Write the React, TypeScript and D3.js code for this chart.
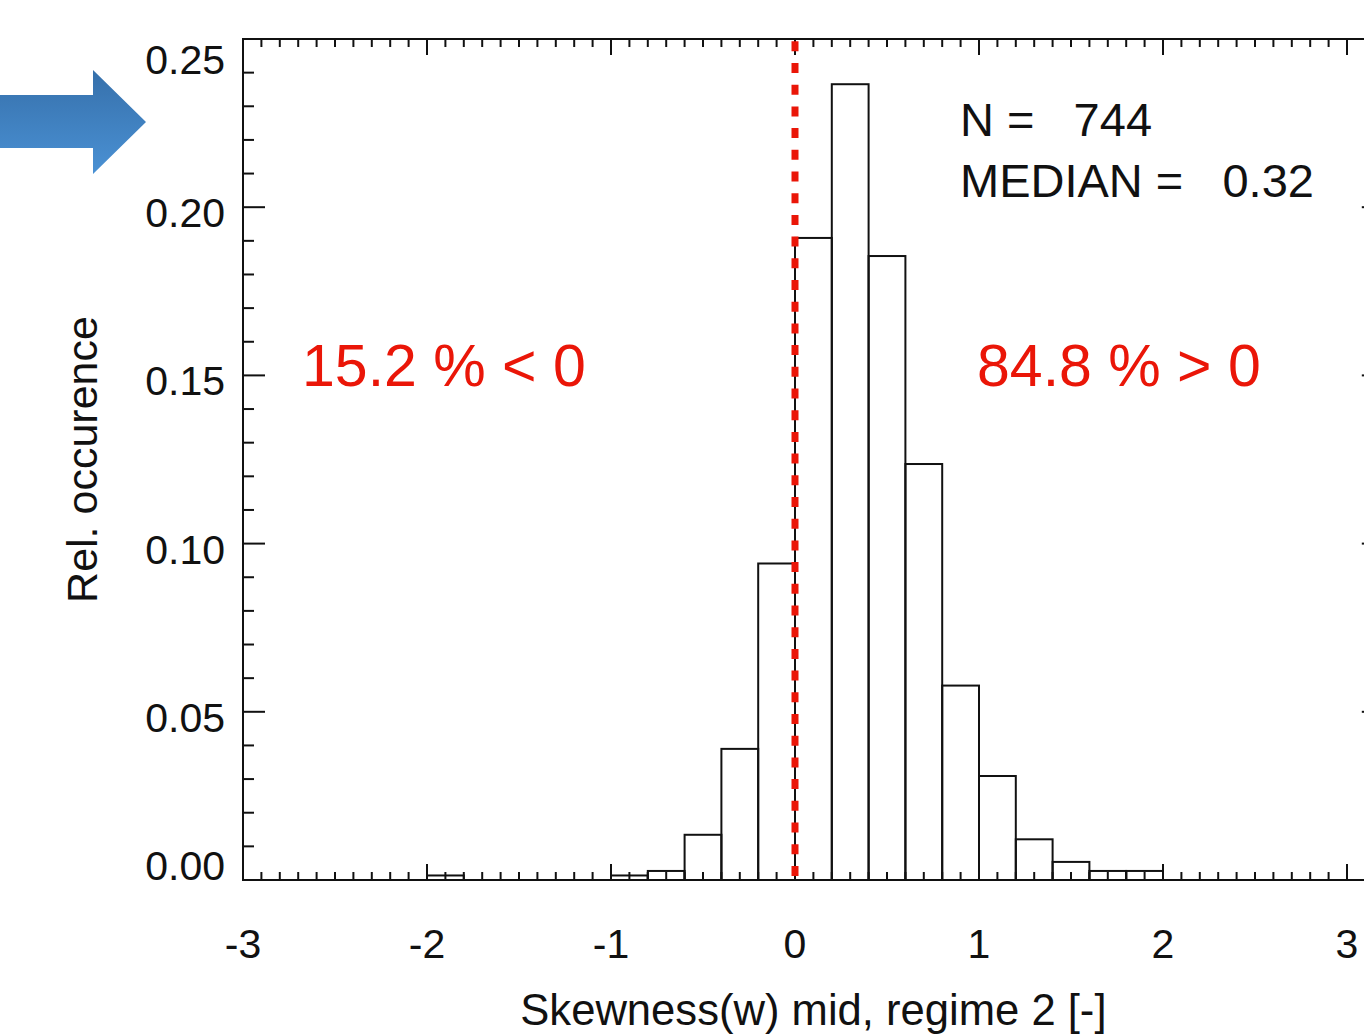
import React from "react";
import * as d3 from "d3";

// ---- data ----
const binStarts = [-2.0, -1.0, -0.8, -0.6, -0.4, -0.2, 0.0, 0.2, 0.4, 0.6, 0.8, 1.0, 1.2, 1.4, 1.6, 1.8];
const binCounts = [1, 1, 2, 10, 29, 70, 142, 176, 138, 92, 43, 23, 9, 4, 2, 2];
const binWidth = 0.2;
const totalN = 744;
const medianValue = 0.32;
const pctBelow = 15.2;
const pctAbove = 84.8;
const xTickValues = [-3, -2, -1, 0, 1, 2, 3];
const yTickValues = [0, 0.05, 0.1, 0.15, 0.2, 0.25];
const xTitle = "Skewness(w) mid, regime 2 [-]";
const yTitle = "Rel. occurence";

const W = 1364;
const H = 1034;
const FONT = "'Liberation Sans', Arial, Helvetica, sans-serif";
const RED = "#ea1608";

export default function App() {
  const left = 243;
  const top = 39;
  const bottom = 880;
  const x = d3.scaleLinear().domain([-3, 3.2]).range([left, left + 6.2 * 184]);
  const y = d3.scaleLinear().domain([0, 0.25]).range([bottom, top]);
  const right = x(3.2);

  const xMinor = d3.range(-30, 33).map((i) => i / 10).filter((v) => Math.abs(v * 10 - Math.round(v) * 10) > 1e-6);
  const yMinor = d3.range(0, 26).map((i) => i / 100).filter((v) => Math.round(v * 100) % 5 !== 0);

  const xMajLen = 16, xMinLen = 8, yMajLen = 22, yMinLen = 11;

  const bars = binStarts.map((s, i) => ({ x0: s, x1: s + binWidth, v: binCounts[i] / totalN }));

  const arrowPath = "M -20 95 L 93 95 L 93 70 L 146 122 L 93 174 L 93 148 L -20 148 Z";

  return (
    <div style={{ position: "absolute", left: 0, top: 0 }}>
      <svg width={W} height={H} style={{ display: "block", background: "#fff" }}>
        <defs>
          <linearGradient id="arrowGrad" x1="0" y1="0" x2="0" y2="1">
            <stop offset="0" stopColor="#3670ab" />
            <stop offset="1" stopColor="#4a91d4" />
          </linearGradient>
        </defs>
        <rect width={W} height={H} fill="#fff" />
        <path d={arrowPath} fill="url(#arrowGrad)" />

        {/* histogram bars */}
        <g fill="none" stroke="#111" strokeWidth={2}>
          {bars.map((b, i) => (
            <rect key={i} x={x(b.x0)} y={y(b.v)} width={x(b.x1) - x(b.x0)} height={y(0) - y(b.v)} />
          ))}
        </g>

        {/* frame */}
        <rect x={left} y={top} width={right - left} height={bottom - top} fill="none" stroke="#111" strokeWidth={2} />

        {/* ticks */}
        <g stroke="#111" strokeWidth={2}>
          {xTickValues.map((v) => (
            <g key={"xm" + v}>
              <line x1={x(v)} x2={x(v)} y1={bottom} y2={bottom - xMajLen} />
              <line x1={x(v)} x2={x(v)} y1={top} y2={top + xMajLen} />
            </g>
          ))}
          {xMinor.map((v, i) => (
            <g key={"xn" + i}>
              <line x1={x(v)} x2={x(v)} y1={bottom} y2={bottom - xMinLen} />
              <line x1={x(v)} x2={x(v)} y1={top} y2={top + xMinLen} />
            </g>
          ))}
          {yTickValues.map((v) => (
            <g key={"ym" + v}>
              <line x1={left} x2={left + yMajLen} y1={y(v)} y2={y(v)} />
              <line x1={right} x2={right - yMajLen} y1={y(v)} y2={y(v)} />
            </g>
          ))}
          {yMinor.map((v, i) => (
            <g key={"yn" + i}>
              <line x1={left} x2={left + yMinLen} y1={y(v)} y2={y(v)} />
              <line x1={right} x2={right - yMinLen} y1={y(v)} y2={y(v)} />
            </g>
          ))}
        </g>

        {/* red zero line */}
        <line x1={x(0)} x2={x(0)} y1={top} y2={bottom} stroke={RED} strokeWidth={7}
          strokeDasharray="10 11.7" strokeDashoffset={-2.3} />

        {/* tick labels */}
        <g fontFamily={FONT} fontSize={41} fill="#111">
          {xTickValues.map((v) => (
            <text key={"xl" + v} x={x(v)} y={958} textAnchor="middle">{d3.format("d")(v).replace("−", "-")}</text>
          ))}
          {yTickValues.map((v) => {
            const c = Math.min(866, Math.max(60, y(v) + 6));
            return (
              <text key={"yl" + v} x={225} y={c + 14} textAnchor="end">{d3.format(".2f")(v)}</text>
            );
          })}
        </g>

        {/* axis titles */}
        <text x={(left + right) / 2} y={1025} textAnchor="middle" fontFamily={FONT} fontSize={43.6} fill="#111">{xTitle}</text>
        <text transform={`translate(97,${(top + bottom) / 2}) rotate(-90)`} textAnchor="middle" fontFamily={FONT} fontSize={43} fill="#111">{yTitle}</text>

        {/* annotations */}
        <g fontFamily={FONT} fontSize={47} fill="#111">
          <text x={960} y={136} xmlSpace="preserve" style={{ whiteSpace: "pre" }}>{`N =   ${totalN}`}</text>
          <text x={960} y={197} xmlSpace="preserve" style={{ whiteSpace: "pre" }}>{`MEDIAN =   ${medianValue.toFixed(2)}`}</text>
        </g>
        <g fontFamily={FONT} fontSize={59} fill={RED}>
          <text x={302} y={386}>{`${pctBelow.toFixed(1)} % < 0`}</text>
          <text x={977} y={386}>{`${pctAbove.toFixed(1)} % > 0`}</text>
        </g>
      </svg>
    </div>
  );
}
